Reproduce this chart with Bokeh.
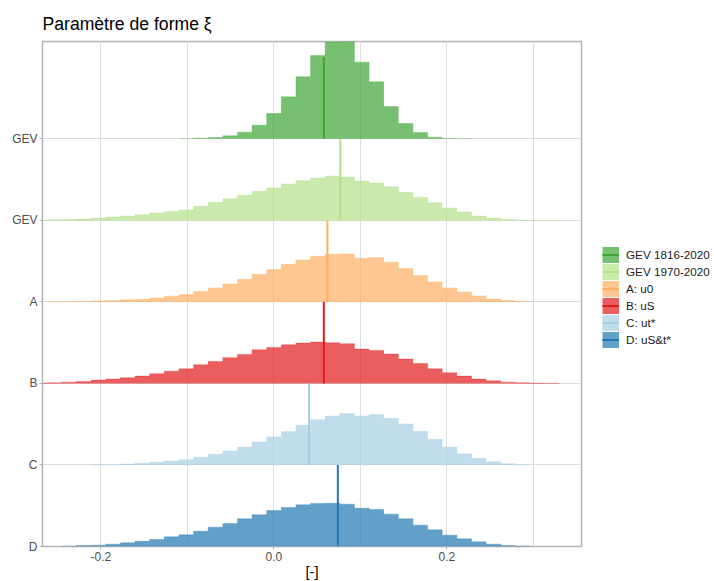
import numpy as np
from bokeh.plotting import figure
from bokeh.models import (FixedTicker, Legend, LegendItem, Range1d,
                          PrintfTickFormatter)
from bokeh.embed import file_html
from bokeh.resources import INLINE

FONT = "Liberation Sans"

# shared histogram bins (left edge of bin index 0, common bin width)
bin_edge0 = -0.0083
bin_width = 0.0169

series_names = ["GEV 1816-2020", "GEV 1970-2020", "A: u0", "B: uS", "C: ut*", "D: uS&t*"]
row_labels = ["GEV", "GEV", "A", "B", "C", "D"]
row_positions = [6, 5, 4, 3, 2, 1]
colors = ["#3ea535", "#b2df8a", "#fdae61", "#e31a1c", "#a6cee3", "#1f78b4"]
central_values = [0.0577, 0.0768, 0.0619, 0.0577, 0.0407, 0.0739]

gev1816_first_bin = -6
gev1816_heights = [0.001, 0.008, 0.016, 0.037, 0.082, 0.168, 0.311, 0.515, 0.761, 1.022,
                   1.187, 1.194, 0.941, 0.699, 0.396, 0.188, 0.077, 0.021, 0.004, 0.001]

gev1970_first_bin = -16
gev1970_heights = [0.004, 0.008, 0.012, 0.016, 0.029, 0.041, 0.053, 0.070, 0.090, 0.110,
                   0.127, 0.172, 0.221, 0.266, 0.307, 0.356, 0.397, 0.446, 0.487, 0.519,
                   0.544, 0.532, 0.483, 0.458, 0.413, 0.344, 0.282, 0.217, 0.151, 0.102,
                   0.053, 0.029, 0.012, 0.004, 0.002, 0.001]

a_first_bin = -15
a_heights = [0.001, 0.002, 0.004, 0.012, 0.016, 0.025, 0.033, 0.049, 0.070, 0.090,
             0.127, 0.172, 0.221, 0.278, 0.339, 0.397, 0.462, 0.515, 0.560, 0.585,
             0.589, 0.536, 0.544, 0.487, 0.409, 0.323, 0.245, 0.172, 0.123, 0.074,
             0.037, 0.016, 0.004]

b_first_bin = -16
b_heights = [0.004, 0.008, 0.016, 0.025, 0.041, 0.053, 0.070, 0.090, 0.119, 0.151,
             0.180, 0.229, 0.270, 0.315, 0.356, 0.413, 0.442, 0.474, 0.495, 0.507,
             0.499, 0.487, 0.421, 0.405, 0.360, 0.299, 0.245, 0.180, 0.131, 0.090,
             0.053, 0.033, 0.016, 0.008, 0.004, 0.002]

c_first_bin = -12
c_heights = [0.002, 0.004, 0.012, 0.020, 0.033, 0.049, 0.065, 0.094, 0.131, 0.172,
             0.221, 0.282, 0.344, 0.409, 0.487, 0.556, 0.601, 0.630, 0.601, 0.618,
             0.573, 0.503, 0.413, 0.315, 0.221, 0.135, 0.082, 0.041, 0.016, 0.004]

d_first_bin = -14
d_heights = [0.002, 0.012, 0.016, 0.029, 0.045, 0.065, 0.086, 0.119, 0.143, 0.188,
             0.237, 0.282, 0.339, 0.389, 0.442, 0.479, 0.511, 0.528, 0.532, 0.519,
             0.470, 0.454, 0.397, 0.339, 0.262, 0.204, 0.139, 0.094, 0.057, 0.029,
             0.012, 0.004]

first_bins = [gev1816_first_bin, gev1970_first_bin, a_first_bin, b_first_bin, c_first_bin, d_first_bin]
heights = [gev1816_heights, gev1970_heights, a_heights, b_heights, c_heights, d_heights]

x_limits = (-0.2674, 0.3555)
x_tick_values = [-0.2, 0.0, 0.2]
x_grid_values = [-0.2, -0.1, 0.0, 0.1, 0.2, 0.3]
title_text = "Paramètre de forme ξ"
x_label = "[-]"

y_top = max(b + max(h) for b, h in zip(row_positions, heights))

p = figure(frame_width=539, frame_height=505, x_range=Range1d(*x_limits), y_range=Range1d(1, y_top),
           output_backend="svg", toolbar_location=None,
           min_border_left=42, min_border_right=133, min_border_top=41, min_border_bottom=35,
           title=title_text)
p.background_fill_color = "white"
p.border_fill_color = "white"
p.outline_line_color = "#b3b3b3"
p.outline_line_width = 1.5

p.title.text_font = FONT
p.title.text_font_size = "17.6px"
p.title.text_font_style = "normal"
p.title.text_color = "black"
p.title.standoff = 16
p.title.align = "left"

p.xgrid.ticker = FixedTicker(ticks=x_grid_values)
p.ygrid.ticker = FixedTicker(ticks=row_positions)
for g in (p.xgrid, p.ygrid):
    g.grid_line_color = "#dedede"
    g.grid_line_width = 1

p.xaxis.ticker = FixedTicker(ticks=x_tick_values)
p.xaxis.formatter = PrintfTickFormatter(format="%.1f")
p.yaxis.ticker = FixedTicker(ticks=row_positions)
p.yaxis.major_label_overrides = {pos: lab for pos, lab in zip(row_positions, row_labels)}
for ax in (p.xaxis, p.yaxis):
    ax.axis_line_color = None
    ax.major_tick_line_color = "#b3b3b3"
    ax.major_tick_out = 3
    ax.major_tick_in = 0
    ax.minor_tick_line_color = None
    ax.major_label_text_font = FONT
    ax.major_label_text_font_size = "12px"
    ax.major_label_text_color = "#4d4d4d"
p.xaxis.major_label_standoff = 2
p.yaxis.major_label_standoff = 2
p.xaxis.axis_label = x_label
p.xaxis.axis_label_standoff = 0
p.xaxis.axis_label_text_font = FONT
p.xaxis.axis_label_text_font_size = "14.7px"
p.xaxis.axis_label_text_font_style = "normal"
p.xaxis.axis_label_text_color = "black"

items = []
for name, base, color, start, h, c in zip(series_names, row_positions, colors,
                                          first_bins, heights, central_values):
    h = np.asarray(h, dtype=float)
    edges = bin_edge0 + bin_width * (start + np.arange(len(h) + 1))
    xs = np.repeat(edges, 2)
    ys = base + np.concatenate([[0.0], np.repeat(h, 2), [0.0]])
    p.patch(xs, ys, fill_color=color, fill_alpha=0.7, line_alpha=0)
    p.line(xs, ys, line_color=color, line_alpha=0.3, line_width=1)
    seg_r = p.segment(x0=[c], y0=[base], x1=[c], y1=[base + 1],
                      line_color=color, line_width=2)
    # legend key: filled box drawn as a thick line (single point, invisible in the plot)
    key_r = p.line(x=[c], y=[base], line_color=color, line_alpha=0.7, line_width=16)
    items.append(LegendItem(label=name, renderers=[key_r, seg_r]))

legend = Legend(items=items, location=(21, 198), glyph_width=17, glyph_height=17,
                label_height=17, spacing=0, padding=0, margin=0, label_standoff=7,
                border_line_alpha=0, background_fill_alpha=0,
                label_text_font=FONT, label_text_font_size="11.7px",
                label_text_color="#1a1a1a")
p.add_layout(legend, "right")

open("out.html", "w").write(file_html(p, INLINE))
